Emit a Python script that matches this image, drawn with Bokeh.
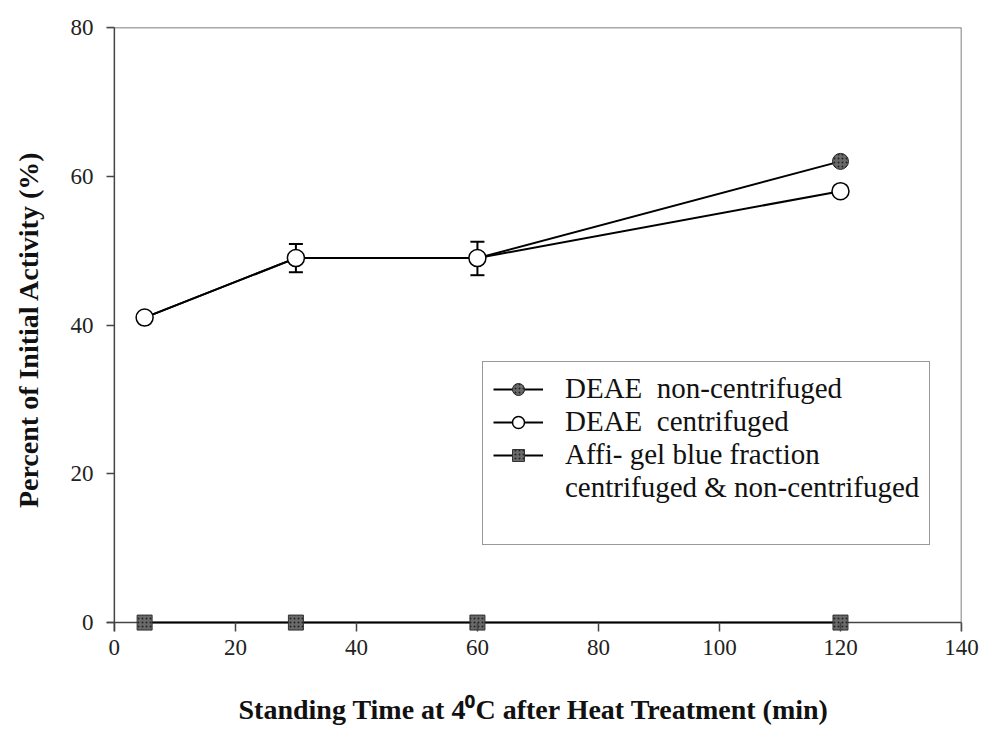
from bokeh.plotting import figure
from bokeh.models import (Range1d, FixedTicker, Span, Whisker, ColumnDataSource,
                          Legend, LegendItem)
from bokeh.embed import file_html
from bokeh.resources import INLINE

# ---- data ----
time_min = [5, 30, 60, 120]
deae_noncentrifuged = [41, 49, 49, 62]
deae_centrifuged = [41, 49, 49, 58]
affi_gel = [0, 0, 0, 0]

err_x = [30, 60]
err_lower = [47.1, 46.7]
err_upper = [50.9, 51.2]

x_ticks = [0, 20, 40, 60, 80, 100, 120, 140]
y_ticks = [0, 20, 40, 60, 80]

legend_labels = ["DEAE  non-centrifuged", "DEAE  centrifuged",
                 "Affi- gel blue fraction", "centrifuged & non-centrifuged"]
x_label = "Standing Time at 4\u2070C after Heat Treatment (min)"
y_label = "Percent of Initial Activity (%)"

SERIF = "Liberation Serif"
AXIS_COLOR = "#444444"

p = figure(width=983, height=747, x_range=Range1d(-1.3, 140), y_range=Range1d(-1.2, 80),
           output_backend="svg", toolbar_location=None,
           min_border_left=106, min_border_right=22, min_border_top=27, min_border_bottom=116)
p.outline_line_color = None
p.xgrid.visible = False
p.ygrid.visible = False
p.background_fill_color = "white"
p.border_fill_color = "white"

# frame borders and zero lines
p.add_layout(Span(location=80, dimension="width", line_color="#555555", line_width=1.5))
p.add_layout(Span(location=140, dimension="height", line_color="#555555", line_width=1.5))
p.add_layout(Span(location=0, dimension="width", line_color=AXIS_COLOR, line_width=1.5,
                  level="underlay"))
p.add_layout(Span(location=0, dimension="height", line_color=AXIS_COLOR, line_width=1.5,
                  level="underlay"))

# axes (lines hidden; ticks reach from frame edge to the zero lines)
for ax in (p.xaxis[0], p.yaxis[0]):
    ax.axis_line_color = None
    ax.major_tick_line_color = AXIS_COLOR
    ax.major_tick_line_width = 1.5
    ax.major_tick_out = 0
    ax.minor_tick_line_color = None
    ax.major_label_text_font = SERIF
    ax.major_label_text_font_size = "23px"
    ax.major_label_text_color = "#222222"
    ax.axis_label_text_font = SERIF
    ax.axis_label_text_font_size = "28px"
    ax.axis_label_text_font_style = "bold"
    ax.axis_label_text_color = "#111111"

p.xaxis[0].ticker = FixedTicker(ticks=x_ticks)
p.yaxis[0].ticker = FixedTicker(ticks=y_ticks)
p.xaxis[0].major_tick_in = 9
p.yaxis[0].major_tick_in = 8
p.xaxis[0].major_label_standoff = 8
p.yaxis[0].major_label_standoff = 13
p.xaxis[0].axis_label = x_label
p.yaxis[0].axis_label = y_label
p.xaxis[0].axis_label_standoff = 36
p.yaxis[0].axis_label_standoff = 24

# error bars (under markers)
err_src = ColumnDataSource(dict(x=err_x, lower=err_lower, upper=err_upper))
wh = Whisker(base="x", lower="lower", upper="upper", source=err_src, level="underlay",
             line_color="black", line_width=2)
wh.upper_head.size = 14
wh.lower_head.size = 14
wh.upper_head.line_width = 2
wh.lower_head.line_width = 2
p.add_layout(wh)

src = ColumnDataSource(dict(t=time_min, nc=deae_noncentrifuged, c=deae_centrifuged, a=affi_gel))

l_nc = p.line("t", "nc", source=src, line_color="black", line_width=2)
l_c = p.line("t", "c", source=src, line_color="black", line_width=2)
l_a = p.line("t", "a", source=src, line_color="black", line_width=2)

s_nc = p.scatter("t", "nc", source=src, marker="circle", size=16, fill_color="#6a6a6a",
                 line_color="#222222", line_width=1, hatch_pattern="dot", hatch_color="#222222",
                 hatch_scale=4)
s_c = p.scatter("t", "c", source=src, marker="circle", size=17, fill_color="white",
                line_color="black", line_width=1.5)
s_a = p.scatter("t", "a", source=src, marker="square", size=15, fill_color="#6a6a6a",
                line_color="#333333", line_width=1, hatch_pattern="dot", hatch_color="#222222",
                hatch_scale=4)

# invisible renderers for the extra legend rows
blank1 = p.line(x=[], y=[], line_alpha=0)
blank2 = p.line(x=[], y=[], line_alpha=0)

legend = Legend(items=[
    LegendItem(label=legend_labels[0], renderers=[l_nc, s_nc]),
    LegendItem(label=legend_labels[1], renderers=[l_c, s_c]),
    LegendItem(label=legend_labels[2], renderers=[l_a, s_a]),
    LegendItem(label=legend_labels[3], renderers=[blank1]),
    LegendItem(label=" ", renderers=[blank2]),
], location=(376, 86))
legend.label_text_font = SERIF
legend.label_text_font_size = "29px"
legend.label_text_line_height = 1.0
legend.label_text_color = "#111111"
legend.label_height = 29
legend.glyph_height = 30
legend.glyph_width = 50
legend.label_standoff = 22
legend.spacing = 0
legend.padding = 10
legend.margin = 0
legend.border_line_color = "#333333"
legend.border_line_width = 1.5
legend.background_fill_alpha = 1
p.add_layout(legend, "center")

open("out.html", "w").write(file_html(p, INLINE))
